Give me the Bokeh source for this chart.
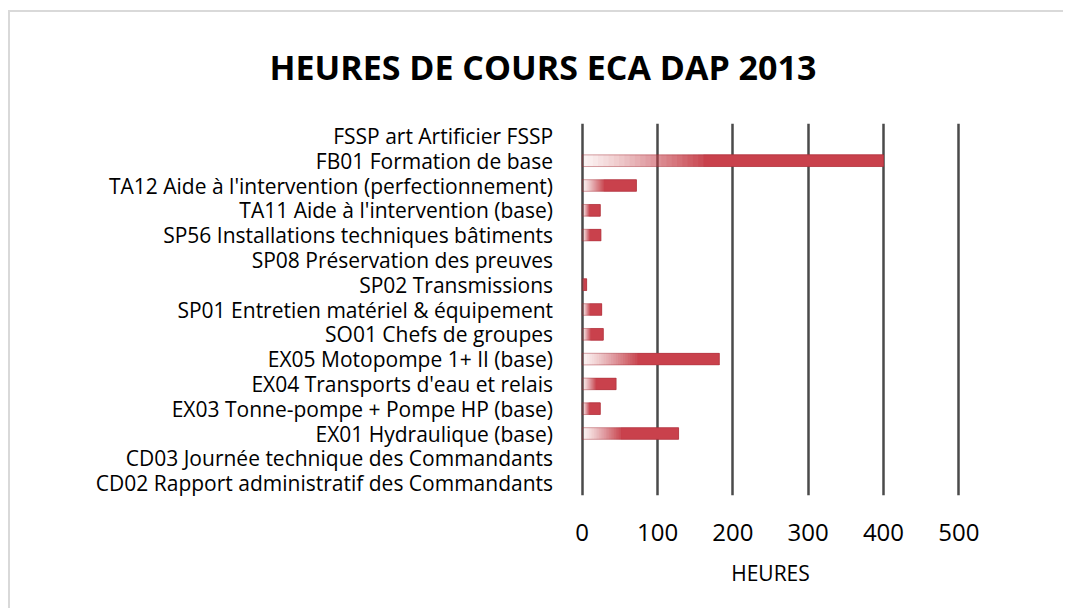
from bokeh.plotting import figure
from bokeh.models import FactorRange, Range1d, FixedTicker, ColumnDataSource
from bokeh.embed import file_html
from bokeh.resources import INLINE

# ---- data (top to bottom as displayed) ----
categories = [
    "FSSP art  Artificier FSSP",
    "FB01  Formation de base",
    "TA12  Aide à l'intervention (perfectionnement)",
    "TA11  Aide à l'intervention (base)",
    "SP56  Installations techniques bâtiments",
    "SP08  Préservation des preuves",
    "SP02  Transmissions",
    "SP01  Entretien matériel & équipement",
    "SO01  Chefs de groupes",
    "EX05  Motopompe 1+ II (base)",
    "EX04  Transports d'eau et relais",
    "EX03  Tonne-pompe + Pompe HP (base)",
    "EX01  Hydraulique (base)",
    "CD03  Journée technique des Commandants",
    "CD02  Rapport administratif des Commandants",
]
heures = [0, 400, 72, 24, 25, 0, 6, 26, 28, 182, 45, 24, 128, 0, 0]
x_ticks = [0, 100, 200, 300, 400, 500]
title_text = "HEURES DE COURS ECA DAP 2013"
axis_title = "HEURES"

FONT = "Open Sans"
BAR_RED = "#c9414c"

factors = list(reversed(categories))

p = figure(
    width=1055, height=598,
    y_range=FactorRange(factors=factors),
    x_range=Range1d(-12.9, 512.9),
    output_backend="svg", toolbar_location=None,
    min_border_left=562, min_border_right=97,
    min_border_top=108, min_border_bottom=115,
    title=title_text,
)
p.styles = {"border-top": "2px solid #d9d9d9", "border-left": "2px solid #d9d9d9",
            "margin-left": "8px", "margin-top": "10px"}
p.outline_line_color = None
p.background_fill_color = "white"
p.border_fill_color = "white"

p.title.text_font = FONT
p.title.text_font_size = "34px"
p.title.text_font_style = "bold"
p.title.text_color = "#000000"
p.title.align = "left"
p.title.offset = -303
p.title.vertical_align = "top"
p.title.standoff = 63

# gradient bars: layered bars (each from a later start to the end) so the
# composite opacity ramps from nearly white to full red without seams
K = 24
RAMP = 0.42
seg_y, seg_l, seg_r, seg_a = [], [], [], []
for cat, v in zip(categories, heures):
    if v <= 0:
        continue
    prev_t = 0.0
    for i in range(K):
        f0 = i / K * RAMP
        t = min(0.999, 0.07 + (f0 / RAMP) ** 1.2 * 0.95)
        if i == K - 1:
            t = 1.0
        a = 1 - (1 - t) / (1 - prev_t)
        prev_t = t
        seg_y.append(cat)
        seg_l.append(v * f0)
        seg_r.append(v)
        seg_a.append(a)
src = ColumnDataSource(dict(y=seg_y, left=seg_l, right=seg_r, alpha=seg_a))
p.hbar(y="y", left="left", right="right", height=0.47, source=src,
       fill_color=BAR_RED, fill_alpha="alpha", line_color=None)

bar_src = ColumnDataSource(dict(y=[c for c, v in zip(categories, heures) if v > 0],
                                right=[v for v in heures if v > 0]))
p.hbar(y="y", left=0, right="right", height=0.47, source=bar_src,
       fill_color=None, line_color="#a3303a", line_alpha=0.45, line_width=1)

# grid
p.xaxis.ticker = FixedTicker(ticks=x_ticks)
p.xgrid.grid_line_color = "#4a4a4a"
p.xgrid.grid_line_width = 2.5
p.ygrid.grid_line_color = None

# axes
p.xaxis.axis_line_color = None
p.xaxis.major_tick_line_color = None
p.xaxis.minor_tick_line_color = None
p.xaxis.major_label_standoff = 22
p.xaxis.major_label_text_font = FONT
p.xaxis.major_label_text_font_size = "24px"
p.xaxis.major_label_text_color = "#000000"
p.xaxis.axis_label = axis_title
p.xaxis.axis_label_text_font = FONT
p.xaxis.axis_label_text_font_size = "21px"
p.xaxis.axis_label_text_font_style = "normal"
p.xaxis.axis_label_text_color = "#000000"
p.xaxis.axis_label_standoff = 15

p.yaxis.axis_line_color = None
p.yaxis.major_tick_line_color = None
p.yaxis.minor_tick_line_color = None
p.yaxis.major_label_standoff = 8
p.yaxis.major_label_text_font = FONT
p.yaxis.major_label_text_font_size = "21px"
p.yaxis.major_label_text_color = "#000000"

open("out.html", "w").write(file_html(p, INLINE))
